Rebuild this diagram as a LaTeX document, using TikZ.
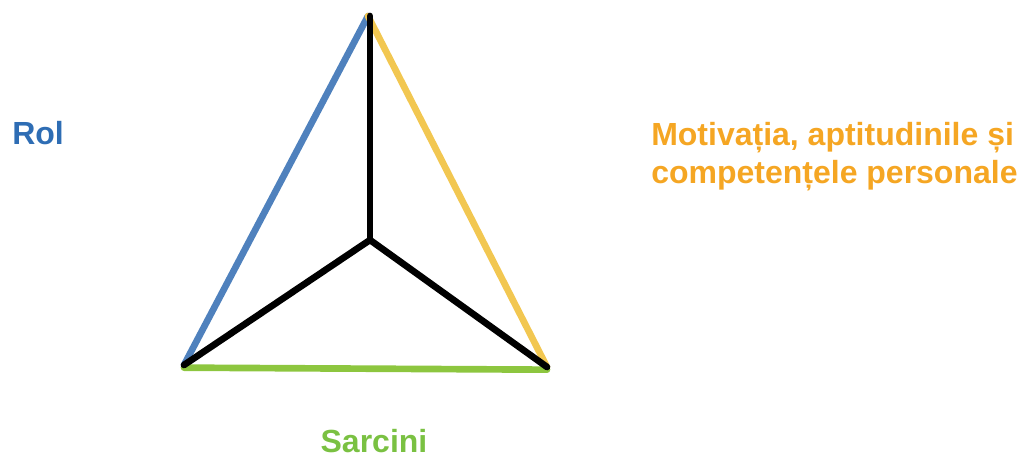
\documentclass[tikz,border=0pt]{standalone}
\usepackage{fontspec}
\setmainfont{Liberation Sans}
\definecolor{rolblue}{HTML}{2E6DB4}
\definecolor{rolline}{HTML}{4F81BD}
\definecolor{motorange}{HTML}{F5A623}
\definecolor{motline}{HTML}{F2C751}
\definecolor{sargreen}{HTML}{7AC142}
\definecolor{sarline}{HTML}{8DC63F}
\tikzset{
  edge/.style={line width=5pt, line cap=round},
  label/.style={inner sep=0pt, font=\bfseries\fontsize{24}{28.5}\selectfont}
}
\begin{document}
\begin{tikzpicture}[x=0.75pt, y=-0.75pt]
% canvas in pixel units of the reference
\useasboundingbox (0,0) rectangle (1021,459);
% corners and centre of the triangle
\coordinate (top) at (368,16);
\coordinate (mid) at (370,240);
\coordinate (left) at (184,365);
\coordinate (right) at (547,367);
% outer sides
\draw[edge, rolline] (top) -- (left);
\draw[edge, motline] (top) -- (right);
\draw[edge, sarline] ([yshift=-2pt]left) -- ([yshift=-2pt]right);
% inner spokes
\draw[edge, black] ([xshift=1.5pt]top) -- (mid);
\draw[edge, black] (mid) -- (left);
\draw[edge, black] (mid) -- (right);
% labels
\node[label, rolblue, anchor=base west] (rol) at (12,145) {Rol};
\node[label, motorange, anchor=north west, align=left] (mot) at (651,122)
  {Motivația, aptitudinile și\\competențele personale};
\node[label, sargreen, anchor=base] (sar) at (374,452) {Sarcini};
\end{tikzpicture}
\end{document}
